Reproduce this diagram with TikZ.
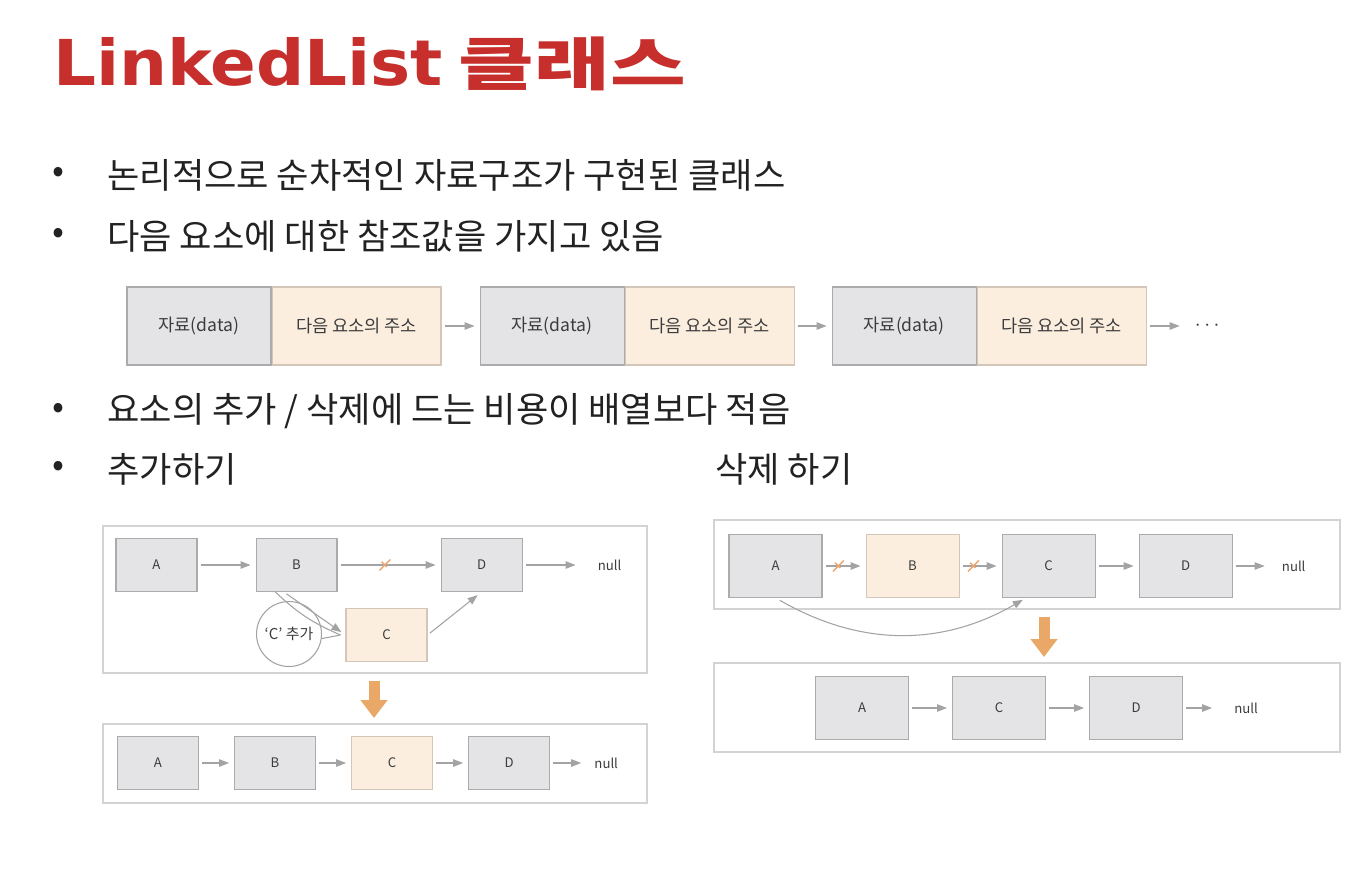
\documentclass[tikz,border=0pt]{standalone}
\usepackage{fontspec}
\usepackage{graphicx}
\setmainfont{Noto Sans CJK KR}
\newfontfamily\titlelatin{DejaVu Sans}
\newfontfamily\titlekor{Noto Sans CJK KR}
\usetikzlibrary{positioning,arrows.meta,shapes.misc}

\definecolor{titlered}{HTML}{C62F2C}
\definecolor{bodytxt}{HTML}{222222}
\definecolor{boxtxt}{HTML}{3C3C3C}
\definecolor{boxgray}{HTML}{E4E4E6}
\definecolor{boxline}{HTML}{ABABAB}
\definecolor{boxpeach}{HTML}{FBEEDF}
\definecolor{peachline}{HTML}{D4C6B8}
\definecolor{arrowgray}{HTML}{A3A3A3}
\definecolor{crossorange}{HTML}{EBA571}
\definecolor{downorange}{HTML}{E9A867}
\definecolor{frameline}{HTML}{D3D3D3}

\tikzset{
  gbox/.style={draw=boxline, fill=boxgray, line width=0.6pt, inner sep=0pt, text=boxtxt},
  pbox/.style={gbox, fill=boxpeach, draw=peachline},
  cellbox/.style={minimum width=2.88cm, minimum height=1.56cm, font=\fontsize{10}{12}\selectfont},
  addrbox/.style={minimum width=3.38cm, minimum height=1.56cm, font=\fontsize{10}{12}\selectfont},
  smallbox/.style={minimum width=1.62cm, minimum height=1.06cm, font=\fontsize{7.5}{8}\selectfont},
  midbox/.style={minimum width=1.86cm, minimum height=1.25cm, font=\fontsize{7.5}{8}\selectfont},
  nulltxt/.style={inner sep=0pt, text=boxtxt, font=\fontsize{7.5}{8}\selectfont},
  lnk/.style={draw=arrowgray, line width=0.6pt, -{Triangle[length=0.2cm,width=0.15cm]},
    shorten <=0.06cm, shorten >=0.1cm},
  xmark/.style={cross out, draw=crossorange, line width=0.8pt, minimum size=0.19cm, inner sep=0pt},
  panel/.style={draw=frameline, line width=1pt, inner sep=0pt},
  downarr/.style={draw=downorange, line width=0.22cm, -{Triangle[length=0.36cm,width=0.52cm]}},
  bul/.style={text=bodytxt, font=\fontsize{20}{24}\selectfont, inner sep=0pt},
  line/.style={anchor=west, text=bodytxt, font=\fontsize{20}{24}\selectfont, inner sep=0pt}
}

\begin{document}
\begin{tikzpicture}[x=0.02cm, y=-0.02cm]
  \fill[white] (0,0) rectangle (1364,876);
  \useasboundingbox (0,0) rectangle (1364,876);

  % title
  \node[anchor=base west, inner sep=0pt, text=titlered, font=\fontsize{40}{44}\selectfont] (title) at (53,85)
    {\scalebox{0.96}[0.9]{\titlelatin\bfseries LinkedList} \scalebox{1.17}[0.82]{\titlekor\bfseries 클래스}};

  % bullet lines
  \node[bul] (b1) at (58,175) {•};
  \node[line] (t1) at (107,175) {논리적으로 순차적인 자료구조가 구현된 클래스};
  \node[bul] (b2) at (58,236) {•};
  \node[line] (t2) at (107,236) {다음 요소에 대한 참조값을 가지고 있음};
  \node[bul] (b3) at (58,411) {•};
  \node[line] (t3) at (107,411) {요소의 추가 / 삭제에 드는 비용이 배열보다 적음};
  \node[bul] (b4) at (58,469) {•};
  \node[line] (t4) at (107,469) {추가하기};
  \node[line] (t5) at (715,469) {삭제 하기};

  % node chain
  \node[gbox, cellbox] (d1) at (199,326) {자료(data)};
  \node[pbox, addrbox, right=0cm of d1] (n1) {다음 요소의 주소};
  \node[gbox, cellbox, right=0.76cm of n1] (d2) {자료(data)};
  \node[pbox, addrbox, right=0cm of d2] (n2) {다음 요소의 주소};
  \node[gbox, cellbox, right=0.74cm of n2] (d3) {자료(data)};
  \node[pbox, addrbox, right=0cm of d3] (n3) {다음 요소의 주소};
  \node[nulltxt, font=\fontsize{12}{14}\selectfont, right=0.96cm of n3] (dots) {$\cdots$};
  \draw[lnk] (n1) -- (d2);
  \draw[lnk] (n2) -- (d3);
  \draw[lnk, shorten >=0.3cm] (n3) -- (dots);

  % add: before
  \node[panel, minimum width=10.88cm, minimum height=2.94cm] (addTop) at (375,599.5) {};
  \node[gbox, smallbox] (aA) at (156.5,565) {A};
  \node[gbox, smallbox, right=1.16cm of aA] (aB) {B};
  \node[gbox, smallbox, right=2.06cm of aB] (aD) {D};
  \node[nulltxt, right=1.5cm of aD] (aNull) {null};
  \node[pbox, smallbox] (aC) at (386.5,635) {C};
  \node[circle, draw=arrowgray, line width=0.6pt, minimum size=1.3cm, inner sep=0pt,
    text=boxtxt, font=\fontsize{8.5}{9}\selectfont] (bub) at (289,634) {‘C’ 추가};
  \coordinate (cTip) at ([xshift=-0.1cm]aC.west);
  \draw[lnk] (aA) -- (aB);
  \draw[lnk] (aB) -- node[xmark, pos=0.46] (x1) {} (aD);
  \draw[lnk, shorten >=0.44cm] (aD) -- (aNull);
  \draw[lnk] (aB.245) -- (aC.west);
  \draw[draw=arrowgray, line width=0.6pt] (aB.232) to[bend right=10] (cTip);
  \draw[draw=arrowgray, line width=0.6pt] (bub.-8) -- (cTip);
  \draw[lnk] (aC.east) -- (aD.south);

  \coordinate (addDn1) at (374,681);
  \coordinate (addDn2) at (374,718);
  \draw[downarr] (addDn1) -- (addDn2);

  % add: after
  \node[panel, minimum width=10.88cm, minimum height=1.58cm] (addBot) at (375,763.5) {};
  \node[gbox, smallbox] (lA) at (158,763) {A};
  \node[gbox, smallbox, right=0.7cm of lA] (lB) {B};
  \node[pbox, smallbox, right=0.7cm of lB] (lC) {C};
  \node[gbox, smallbox, right=0.7cm of lC] (lD) {D};
  \node[nulltxt, right=0.88cm of lD] (lNull) {null};
  \draw[lnk] (lA) -- (lB);
  \draw[lnk] (lB) -- (lC);
  \draw[lnk] (lC) -- (lD);
  \draw[lnk, shorten >=0.26cm] (lD) -- (lNull);

  % delete: before
  \node[panel, minimum width=12.52cm, minimum height=1.78cm] (delTop) at (1027,564.5) {};
  \node[gbox, midbox] (rA) at (775.5,566) {A};
  \node[pbox, midbox, right=0.86cm of rA] (rB) {B};
  \node[gbox, midbox, right=0.84cm of rB] (rC) {C};
  \node[gbox, midbox, right=0.86cm of rC] (rD) {D};
  \node[nulltxt, right=0.98cm of rD] (rNull) {null};
  \draw[lnk] (rA) -- node[xmark, pos=0.37] (x2) {} (rB);
  \draw[lnk] (rB) -- node[xmark, pos=0.33] (x3) {} (rC);
  \draw[lnk] (rC) -- (rD);
  \draw[lnk, shorten >=0.34cm] (rD) -- (rNull);
  \draw[lnk, shorten <=0.1cm, shorten >=0.08cm] (rA.south) to[bend right=30] (rC.235);

  \coordinate (delDn1) at (1044,617);
  \coordinate (delDn2) at (1044,657);
  \draw[downarr] (delDn1) -- (delDn2);

  % delete: after
  \node[panel, minimum width=12.52cm, minimum height=1.78cm] (delBot) at (1027,707.5) {};
  \node[gbox, midbox] (qA) at (862,708) {A};
  \node[gbox, midbox, right=0.86cm of qA] (qC) {C};
  \node[gbox, midbox, right=0.86cm of qC] (qD) {D};
  \node[nulltxt, right=1.02cm of qD] (qNull) {null};
  \draw[lnk] (qA) -- (qC);
  \draw[lnk] (qC) -- (qD);
  \draw[lnk, shorten >=0.44cm] (qD) -- (qNull);
\end{tikzpicture}
\end{document}
